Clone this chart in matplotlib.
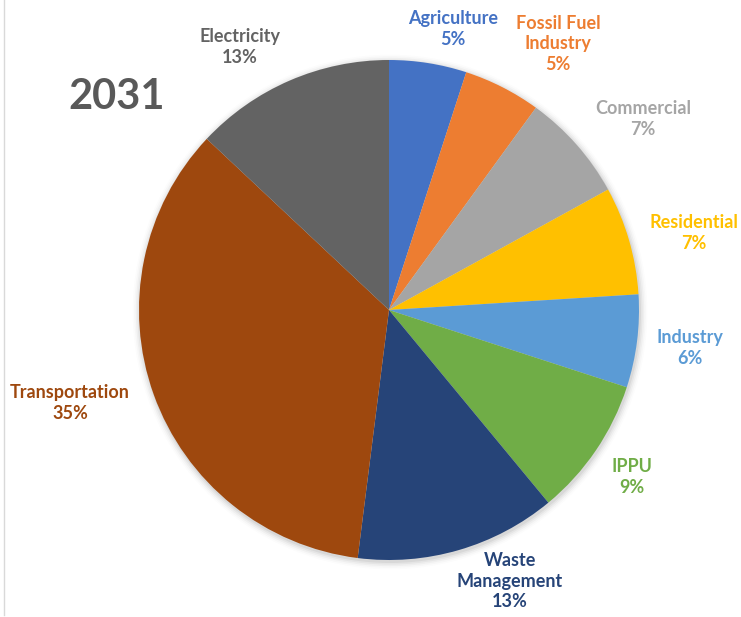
import matplotlib
matplotlib.use("Agg")
import matplotlib.pyplot as plt
from matplotlib.patches import Circle
from matplotlib.lines import Line2D

# Emissions share by sector, 2031 (clockwise from 12 o'clock)
sectors = ["Agriculture", "Fossil Fuel\nIndustry", "Commercial", "Residential",
           "Industry", "IPPU", "Waste\nManagement", "Transportation", "Electricity"]
shares = [5, 5, 7, 7, 6, 9, 13, 35, 13]
colors = ["#4472C4", "#ED7D31", "#A5A5A5", "#FFC000", "#5B9BD5",
          "#70AD47", "#264478", "#9E480E", "#636363"]
year = "2031"

# Label anchor points (pixel space, origin at top-left)
label_xy = [(453, 29), (558, 44), (643, 119), (694, 233), (690, 348),
            (632, 477), (510, 581), (70, 403), (240, 47)]

W, H = 741, 617
fig = plt.figure(figsize=(W / 100, H / 100), dpi=100)
ax = fig.add_axes([0, 0, 1, 1])

cx, cy, r = 389, H - 310, 250

# soft drop shadow around the pie
for i, a in enumerate([0.05, 0.04, 0.03, 0.02, 0.01]):
    ax.add_patch(Circle((cx + 1, cy - 2), r + 1 + i * 1.6, color="black",
                        alpha=a, lw=0, zorder=0))

ax.pie(shares, colors=colors, startangle=90, counterclock=False,
       center=(cx, cy), radius=r, wedgeprops=dict(linewidth=0),
       frame=True)

for name, val, col, (lx, ly) in zip(sectors, shares, colors, label_xy):
    ax.text(lx, H - ly, f"{name}\n{val}%", color=col, fontsize=13,
            fontweight="bold", family=["Lato", "DejaVu Sans"],
            ha="center", va="center", linespacing=1.22)

ax.text(117, H - 97, year, color="#595959", fontsize=30, fontweight="bold",
        family=["Lato", "DejaVu Sans"], ha="center", va="center")

# chart-area border on the left
ax.add_line(Line2D([3.5, 3.5], [2, H], color="#D9D9D9", lw=1))

ax.set_xlim(0, W)
ax.set_ylim(0, H)
ax.set_aspect("equal")
ax.axis("off")

fig.savefig("out.png", dpi=100, facecolor="white")
